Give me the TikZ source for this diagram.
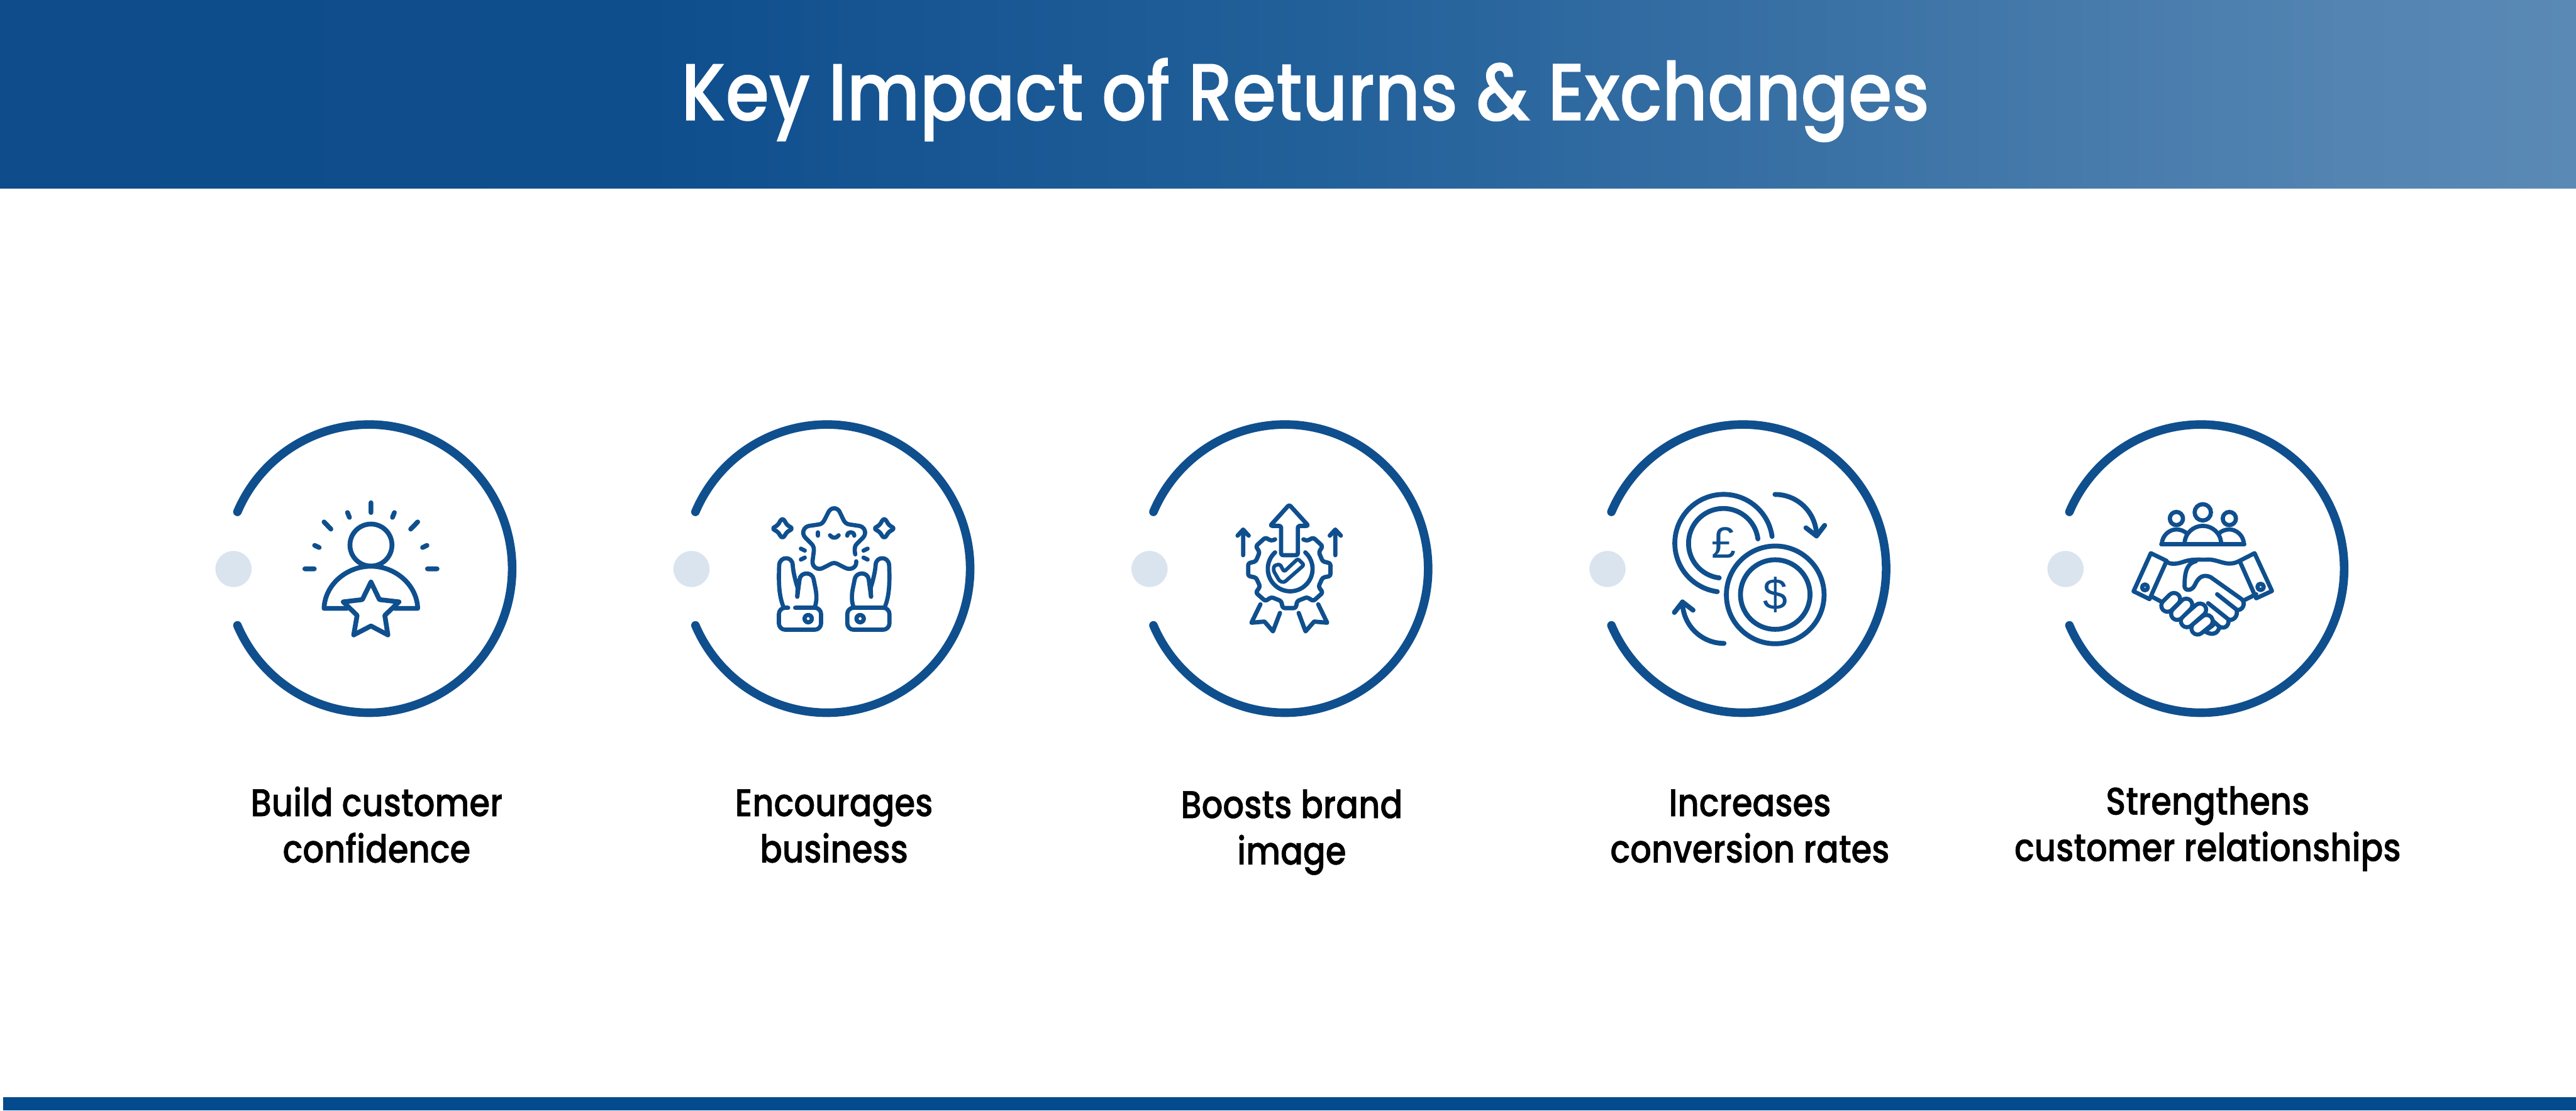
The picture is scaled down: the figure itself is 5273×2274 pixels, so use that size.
\documentclass[tikz,border=0pt]{standalone}
\usepackage{fontspec}
\setmainfont{Liberation Sans}
\newfontfamily\ttlfont[FakeStretch=0.872,FakeBold=0.8]{Poppins Medium}
\newfontfamily\lblfont[FakeStretch=0.862,FakeBold=0.8]{Poppins Medium}
\newfontfamily\cashfont{Liberation Sans}
\definecolor{navy}{HTML}{0F4F8E}
\definecolor{barblue}{HTML}{044B8D}
\definecolor{dotblue}{HTML}{DAE4EF}
\definecolor{hdrA}{HTML}{0E4C8B}
\definecolor{hdrB}{HTML}{0F4E8D}
\definecolor{hdrC}{HTML}{22609A}
\definecolor{hdrD}{HTML}{4076A8}
\definecolor{hdrE}{HTML}{5384B2}
\definecolor{hdrF}{HTML}{5A89B5}
\pgfdeclarehorizontalshading{hdr}{100bp}{
 color(0bp)=(hdrA); color(25bp)=(hdrA); color(37.5bp)=(hdrB); color(50.5bp)=(hdrC); color(63bp)=(hdrD); color(70.5bp)=(hdrE); color(75bp)=(hdrF); color(100bp)=(hdrF)}
\tikzset{
 ring/.style={draw=navy,line width=17.5pt,line cap=round},
 spot/.style={circle,fill=dotblue,minimum size=74pt,inner sep=0pt},
 lbl/.style={font=\lblfont\fontsize{79}{95}\selectfont,text=black,align=center,inner sep=0pt,anchor=base},
 ico/.style={draw=navy,line cap=round,line join=round},
 cash/.style={font=\cashfont\fontsize{90}{90}\selectfont,text=navy,inner sep=0pt},
}
\newcommand{\ringat}[3]{%
 \draw[ring] (#1-270,1048) arc[start angle=156.8,end angle=-156.8,x radius=293pt,y radius=295pt];
 \node[spot] (#3) at (#1-278,1165) {};
}
\begin{document}
\begin{tikzpicture}[x=1pt,y=-1pt]
\useasboundingbox (0,0) rectangle (5273,2274);
\fill[white] (0,0) rectangle (5273,2274);
\shade[shading=hdr] (0,0) rectangle (5273,386);
\fill[barblue] (6,2246) rectangle (5273,2274);
\node[font=\ttlfont\fontsize{165}{165}\selectfont,text=white,inner sep=0pt,anchor=base] (title) at (2672,246) {Key Impact of Returns \& Exchanges};

\ringat{756}{1}{dot1}
\ringat{1693.5}{2}{dot2}
\ringat{2631}{3}{dot3}
\ringat{3568.5}{4}{dot4}
\ringat{4506}{5}{dot5}

% labels
\node[lbl] (lab1) at (771,1766) {Build customer\\confidence};
\node[lbl] (lab2) at (1707,1766) {Encourages\\business};
\node[lbl] (lab3) at (2644,1770) {Boosts brand\\image};
\node[lbl] (lab4) at (3582,1766) {Increases\\conversion rates};
\node[lbl] (lab5) at (4519,1763) {Strengthens\\customer relationships};

% icon 1
\begin{scope}[shift={(600,1000)},x=.33333pt,y=-.33333pt,ico,line width=9.8pt]
\draw (478,348) circle[radius=43pt];
\draw (478,88)--(478,148) (334,148)--(346,178) (190,206)--(232,250) (132,350)--(160,363) (72,494)--(130,494);
\draw (622,148)--(610,178) (765,206)--(722,250) (822,350)--(795,363) (825,494)--(884,494);
\draw (330,737)--(190,737) .. controls (195,590) and (330,478) .. (478,478) .. controls (625,478) and (760,590) .. (765,737) -- (625,737);
\draw[fill=white] (478,575)--(530,683)--(650,697)--(563,780)--(582,900)--(478,845)--(372,900)--(393,780)--(308,697)--(425,683)--cycle;
\end{scope}

% icon 2
\begin{scope}[shift={(1500,980)},x=.33333pt,y=-.33333pt,ico,line width=8.6pt]
\draw (752,465) .. controls (745,430) and (748,412) .. (765,397) -- (800,362) .. controls (825,335) and (810,295) .. (775,290) -- (720,282) .. controls (695,280) and (685,265) .. (678,250) -- (660,212) .. controls (645,172) and (600,172) .. (584,212) -- (565,250) .. controls (555,270) and (545,280) .. (525,282) -- (470,290) .. controls (435,295) and (420,335) .. (445,362) -- (480,397) .. controls (497,412) and (500,430) .. (497,450) -- (490,505) .. controls (485,545) and (525,565) .. (555,548) -- (600,525) .. controls (615,516) and (630,516) .. (645,525) -- (690,548) .. controls (725,565) and (762,545) .. (758,508);
\draw (523,330)--(523,350);
\draw (597,348) .. controls (612,368) and (635,368) .. (650,348);
\draw (703,350) .. controls (703,322) and (745,322) .. (746,350);
\foreach \dx in {0,625}{
\draw[xshift=\dx*.33333pt] (290,262) .. controls (300,245) and (310,245) .. (320,262) .. controls (328,280) and (340,290) .. (350,295) .. controls (365,302) and (365,310) .. (350,318) .. controls (340,322) and (328,332) .. (320,348) .. controls (310,365) and (300,365) .. (290,348) .. controls (282,332) and (270,322) .. (260,318) .. controls (245,310) and (245,302) .. (260,295) .. controls (270,290) and (282,280) .. (290,262) -- cycle;
}
\draw (418,430)--(442,442) (418,497)--(442,485) (828,430)--(803,442) (828,497)--(803,485);
\draw (310,785) .. controls (285,720) and (280,650) .. (285,530) .. controls (290,475) and (365,475) .. (368,530) .. controls (370,570) and (385,630) .. (398,670) -- (396,725);
\draw (396,725) -- (410,620) .. controls (415,570) and (490,570) .. (497,620) .. controls (505,670) and (525,720) .. (505,785);
\draw[rounded corners=13pt] (340,793) -- (283,793) -- (283,928) -- (542,928) -- (542,793) -- (383,793);
\draw (463,860) circle[radius=7.5pt];
\draw (935,785) .. controls (960,720) and (965,650) .. (960,530) .. controls (955,475) and (880,475) .. (877,530) .. controls (875,570) and (860,630) .. (847,670) -- (849,725);
\draw (849,725) -- (835,620) .. controls (830,570) and (755,570) .. (748,620) .. controls (740,670) and (720,720) .. (740,785);
\draw[rounded corners=13pt] (703,793) rectangle (962,928);
\draw (782,860) circle[radius=7.5pt];
\end{scope}

% icon 3
\begin{scope}[shift={(2440,1000)},x=.33333pt,y=-.33333pt,ico,line width=8.8pt]
\draw[rounded corners=4pt] (597,100)--(715,230)--(650,230)--(650,410)--(547,410)--(547,230)--(480,230)--cycle;
\draw (314,410)--(314,255) (280,290)--(314,253)--(348,290);
\draw (880,410)--(880,255) (846,290)--(880,253)--(914,290);
\draw[rounded corners=4pt] (510,313)--(487,322)--(450,302)--(392,355)--(415,392)--(392,448)--(345,460)--(345,538)--(393,548)--(418,603)--(392,640)--(450,692)--(488,668)--(548,692)--(557,735)--(637,735)--(646,692)--(706,668)--(745,692)--(803,640)--(777,603)--(802,548)--(850,538)--(850,460)--(802,448)--(779,392)--(802,355)--(745,302)--(707,322)--(684,313);
\draw (510,393) arc[start angle=132.5,end angle=407.5,radius=45.83pt];
\draw[rounded corners=4pt,line width=7.5pt] (565,512)--(650,432)--(688,470)--(565,578)--(538,570)--(500,505)--(503,475)--(540,465)--cycle;
\draw (420,712)--(365,825)--(445,818)--(497,878)--(540,765);
\draw (775,712)--(830,825)--(750,818)--(697,878)--(655,765);
\end{scope}

% icon 4
\begin{scope}[shift={(3380,980)},x=.33333pt,y=-.33333pt,ico,line width=10pt]
\draw (761.5,714) circle[radius=100pt];
\draw (761.5,712) circle[radius=71.2pt];
\draw (742,355) arc[start angle=8,end angle=262.5,radius=100pt];
\draw (655,370) arc[start angle=7.3,end angle=263.2,radius=71.3pt];
\draw (760,97) arc[start angle=90,end angle=0,radius=85pt];
\draw (950,302)--(1015,352)--(1065,287);
\draw (447,1012) arc[start angle=270,end angle=180,radius=85pt];
\draw (142,822)--(192,758)--(257,808);
\node[cash] (pound) at (445,393) {£};
\node[cash] (dollar) at (762,712) {\$};
\end{scope}

% icon 5
\begin{scope}[shift={(4340,1000)},x=.33333pt,y=-.33333pt,ico,line width=8.6pt]
\draw (507,147) circle[radius=16.7pt];
\draw (345,185) circle[radius=13.5pt];
\draw (670,185) circle[radius=13.5pt];
\draw (252,343)--(762,343);
\draw (255,343) .. controls (258,285) and (305,252) .. (345,252) .. controls (370,252) and (395,262) .. (410,278);
\draw (760,343) .. controls (757,285) and (710,252) .. (670,252) .. controls (645,252) and (620,262) .. (605,278);
\draw (395,343) .. controls (395,275) and (450,230) .. (507,230) .. controls (565,230) and (620,275) .. (620,343);
\draw (188,398)--(285,445)--(180,680)--(82,632)--cycle;
\draw (825,398)--(733,445)--(835,675)--(932,630)--cycle;
\draw (152,608) circle[radius=6pt];
\draw (862,605) circle[radius=6.5pt];
\draw (285,450) .. controls (310,470) and (350,465) .. (400,447) .. controls (450,432) and (500,440) .. (540,437) .. controls (590,435) and (640,470) .. (690,460) .. controls (710,458) and (725,448) .. (733,445);
\draw (465,447) .. controls (415,460) and (395,500) .. (395,600) .. controls (395,630) and (440,635) .. (460,590) .. controls (480,545) and (510,525) .. (555,545) -- (745,680) .. controls (775,705) and (750,755) .. (715,745) -- (595,650);
\draw (715,745) .. controls (725,790) and (690,815) .. (665,805) -- (540,705);
\draw (665,805) .. controls (670,845) and (640,865) .. (610,850) -- (525,775);
\draw (610,850) .. controls (600,890) and (570,900) .. (545,890) -- (510,875);
\draw (195,665)--(260,700) (765,685)--(835,650);
\draw (530,870)--(570,840);
\tikzset{caps/.style={double=white,double distance=16.5pt,line width=8.6pt}}
\draw[caps] (530,815)--(475,860);
\draw[caps] (490,745)--(410,815);
\draw[caps] (405,715)--(350,770);
\draw[caps] (330,680)--(290,720);
\end{scope}
\end{tikzpicture}
\end{document}
